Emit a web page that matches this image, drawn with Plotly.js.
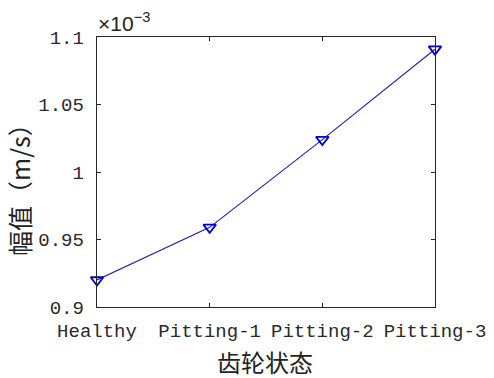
<!DOCTYPE html>
<html><head><meta charset="utf-8">
<script src="https://cdn.plot.ly/plotly-3.0.1.min.js"></script>
<style>html,body{margin:0;padding:0;background:#fff;}#chart{width:494px;height:378px;}</style>
</head><body><div id="chart"></div>
<script>
const categories = ["Healthy", "Pitting-1", "Pitting-2", "Pitting-3"];
const amplitude = [0.920, 0.959, 1.024, 1.091];
const yTicks = [0.9, 0.95, 1, 1.05, 1.1];
const yTickText = ["0.9", "0.95", "1", "1.05", "1.1"];

const tickFont = {family: "Liberation Mono, monospace", size: 19, color: "#2a2a2a"};
const cjk = "Noto Sans CJK SC";

const trace = {
  x: categories, y: amplitude, type: "scatter", mode: "lines+markers",
  line: {color: "#2020b8", width: 1.2},
  marker: {symbol: "triangle-down-open", size: 11, color: "#0000cc", line: {width: 1.8, color: "#0000cc"}},
  cliponaxis: false
};

const axisCommon = {
  showline: true, linecolor: "#262626", linewidth: 1.3, mirror: "ticks",
  ticks: "inside", ticklen: 4, tickcolor: "#262626", tickwidth: 1,
  showgrid: false, zeroline: false, tickfont: tickFont, fixedrange: true
};

const layout = {
  width: 494, height: 378,
  margin: {l: 97, r: 59, t: 37, b: 71},
  paper_bgcolor: "#fff", plot_bgcolor: "#fff",
  showlegend: false,
  xaxis: Object.assign({}, axisCommon, {type: "category", range: [0, 3], ticklabelstandoff: 6}),
  yaxis: Object.assign({}, axisCommon, {range: [0.9, 1.1], tickvals: yTicks, ticktext: yTickText, ticklabelstandoff: 8}),
  annotations: [
    {text: "齿轮状态", xref: "paper", yref: "paper", x: 0.498, y: 0, yshift: -54, xanchor: "center", yanchor: "middle",
     showarrow: false, font: {family: cjk, size: 24, color: "#222"}},
    {text: "幅值（m/s）", xref: "paper", yref: "paper", x: 0, y: 0.5, xshift: -78, yshift: -12, textangle: -90,
     xanchor: "center", yanchor: "middle", showarrow: false, font: {family: cjk, size: 25, color: "#222"}},
    {text: "×10<sup>−3</sup>", xref: "paper", yref: "paper", x: 0, y: 1, xshift: -1, yshift: 0, xanchor: "left", yanchor: "bottom",
     showarrow: false, font: {family: "Liberation Sans, sans-serif", size: 21, color: "#222"}}
  ]
};

Plotly.newPlot("chart", [trace], layout, {staticPlot: true});
</script></body></html>
